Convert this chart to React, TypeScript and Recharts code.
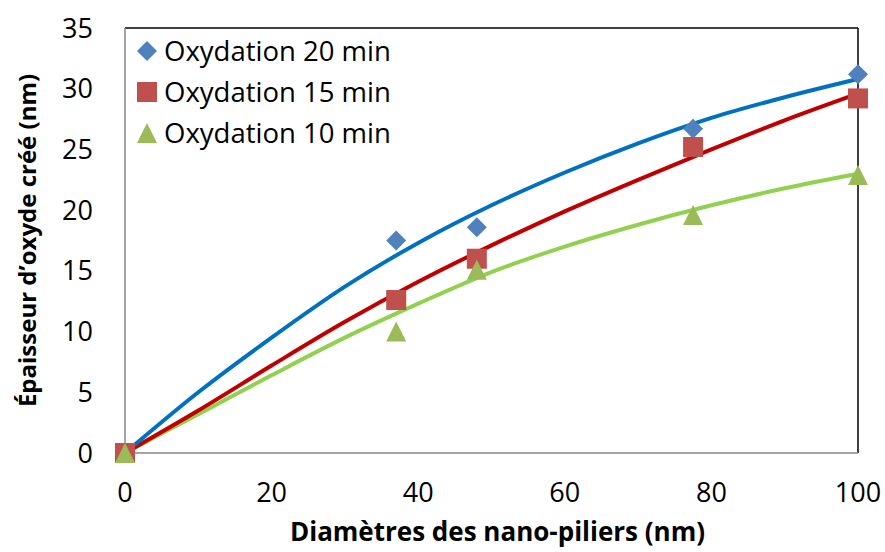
import React from "react";
import {
  ComposedChart,
  Scatter,
  Line,
  XAxis,
  YAxis,
  Legend,
  ReferenceLine,
} from "recharts";

// measured points (diameter nm, oxide thickness nm)
const ox20 = [
  { x: 0, y: 0 },
  { x: 37, y: 17.5 },
  { x: 48, y: 18.6 },
  { x: 77.5, y: 26.7 },
  { x: 100, y: 31.2 },
];
const ox15 = [
  { x: 0, y: 0 },
  { x: 37, y: 12.6 },
  { x: 48, y: 16.0 },
  { x: 77.5, y: 25.2 },
  { x: 100, y: 29.2 },
];
const ox10 = [
  { x: 0, y: 0 },
  { x: 37, y: 10.0 },
  { x: 48, y: 15.1 },
  { x: 77.5, y: 19.6 },
  { x: 100, y: 22.9 },
];

// trend curves, every 10 nm
const trend20 = [
  { x: 0, y: 0 },
  { x: 10, y: 5.0 },
  { x: 20, y: 9.5 },
  { x: 30, y: 13.7 },
  { x: 40, y: 17.3 },
  { x: 50, y: 20.4 },
  { x: 60, y: 23.1 },
  { x: 70, y: 25.5 },
  { x: 80, y: 27.6 },
  { x: 90, y: 29.3 },
  { x: 100, y: 30.8 },
];
const trend15 = [
  { x: 0, y: 0 },
  { x: 10, y: 3.5 },
  { x: 20, y: 7.2 },
  { x: 30, y: 10.8 },
  { x: 40, y: 14.1 },
  { x: 50, y: 17.1 },
  { x: 60, y: 19.9 },
  { x: 70, y: 22.5 },
  { x: 80, y: 25.0 },
  { x: 90, y: 27.4 },
  { x: 100, y: 29.6 },
];
const trend10 = [
  { x: 0, y: 0 },
  { x: 10, y: 3.2 },
  { x: 20, y: 6.4 },
  { x: 30, y: 9.5 },
  { x: 40, y: 12.3 },
  { x: 50, y: 14.9 },
  { x: 60, y: 17.0 },
  { x: 70, y: 18.8 },
  { x: 80, y: 20.4 },
  { x: 90, y: 21.8 },
  { x: 100, y: 23.0 },
];

const xTicks = [0, 20, 40, 60, 80, 100];
const yTicks = [0, 5, 10, 15, 20, 25, 30, 35];
const seriesNames = ["Oxydation 20 min", "Oxydation 15 min", "Oxydation 10 min"];

const FONT = "'Open Sans', sans-serif";

const MARKERS: Record<string, { kind: string; color: string }> = {
  "Oxydation 20 min": { kind: "diamond", color: "#4F81BD" },
  "Oxydation 15 min": { kind: "square", color: "#C0504D" },
  "Oxydation 10 min": { kind: "triangle", color: "#9BBB59" },
};

function markerPath(kind: string, cx: number, cy: number) {
  const r = 10;
  if (kind === "diamond")
    return `M${cx},${cy - r}L${cx + r},${cy}L${cx},${cy + r}L${cx - r},${cy}Z`;
  if (kind === "square")
    return `M${cx - r},${cy - r}h${2 * r}v${2 * r}h${-2 * r}Z`;
  return `M${cx},${cy - r}L${cx + r},${cy + r}L${cx - r},${cy + r}Z`;
}

const makeShape = (name: string) => (props: any) => {
  const m = MARKERS[name];
  return <path d={markerPath(m.kind, props.cx, props.cy)} fill={m.color} />;
};

function LegendBox({ payload }: any) {
  // keep the series order of the original legend
  const items = seriesNames.filter((n) =>
    (payload || []).some((p: any) => p.value === n)
  );
  return (
    <div style={{ fontFamily: FONT, fontSize: 27.5, color: "#000" }}>
      {items.map((name) => {
        const m = MARKERS[name];
        return (
          <div
            key={name}
            style={{ display: "flex", alignItems: "center", height: 41 }}
          >
            <svg width={26} height={24} style={{ marginRight: 4 }}>
              <path d={markerPath(m.kind, 13, 12)} fill={m.color} />
            </svg>
            <span style={{ lineHeight: "41px" }}>{name}</span>
          </div>
        );
      })}
    </div>
  );
}

export default function App() {
  const tickStyle = { fill: "#000", fontSize: 27, fontFamily: FONT };
  return (
    <div style={{ position: "absolute", left: 0, top: 0, background: "#fff" }}>
      <ComposedChart
        width={885}
        height={552}
        margin={{ top: 28, right: 27, bottom: 0, left: 0 }}
      >
        <XAxis
          dataKey="x"
          type="number"
          domain={[0, 100]}
          ticks={xTicks}
          height={99}
          tickSize={0}
          tickMargin={30}
          tickLine={false}
          axisLine={{ stroke: "#868686", strokeWidth: 1.5 }}
          tick={tickStyle}
          label={{
            content: ({ viewBox }: any) => (
              <text
                x={viewBox.x + viewBox.width / 2 + 6}
                y={viewBox.y + 88}
                textAnchor="middle"
                fontFamily={FONT}
                fontWeight="bold"
                fontSize={26}
                fill="#000"
              >
                Diamètres des nano-piliers (nm)
              </text>
            ),
          }}
        />
        <YAxis
          type="number"
          domain={[0, 35]}
          ticks={yTicks}
          width={125}
          tickSize={0}
          tickMargin={32}
          tickLine={false}
          axisLine={{ stroke: "#868686", strokeWidth: 1.5 }}
          tick={tickStyle}
          label={{
            content: ({ viewBox }: any) => {
              const cx = 36;
              const cy = viewBox.y + viewBox.height / 2;
              return (
                <text
                  x={cx}
                  y={cy}
                  transform={`rotate(-90 ${cx} ${cy})`}
                  textAnchor="middle"
                  fontFamily={FONT}
                  fontWeight="bold"
                  fontSize={24}
                  fill="#000"
                >
                  Épaisseur d’oxyde créé (nm)
                </text>
              );
            },
          }}
        />
        <ReferenceLine y={35} stroke="#000" strokeWidth={1.5} />
        <ReferenceLine x={100} stroke="#000" strokeWidth={1.5} />
        <Legend
          layout="vertical"
          align="center"
          verticalAlign="middle"
          wrapperStyle={{ left: 134, top: 30 }}
          content={<LegendBox />}
        />
        <Scatter
          name="Oxydation 20 min"
          data={ox20}
          dataKey="y"
          fill="#4F81BD"
          shape={makeShape("Oxydation 20 min")}
          isAnimationActive={false}
        />
        <Scatter
          name="Oxydation 15 min"
          data={ox15}
          dataKey="y"
          fill="#C0504D"
          shape={makeShape("Oxydation 15 min")}
          isAnimationActive={false}
        />
        <Scatter
          name="Oxydation 10 min"
          data={ox10}
          dataKey="y"
          fill="#9BBB59"
          shape={makeShape("Oxydation 10 min")}
          isAnimationActive={false}
        />
        <Line
          data={trend10}
          dataKey="y"
          type="monotone"
          stroke="#92D050"
          strokeWidth={4}
          dot={false}
          activeDot={false}
          legendType="none"
          isAnimationActive={false}
        />
        <Line
          data={trend15}
          dataKey="y"
          type="monotone"
          stroke="#C00000"
          strokeWidth={4}
          dot={false}
          activeDot={false}
          legendType="none"
          isAnimationActive={false}
        />
        <Line
          data={trend20}
          dataKey="y"
          type="monotone"
          stroke="#0070C0"
          strokeWidth={4}
          dot={false}
          activeDot={false}
          legendType="none"
          isAnimationActive={false}
        />
      </ComposedChart>
    </div>
  );
}
